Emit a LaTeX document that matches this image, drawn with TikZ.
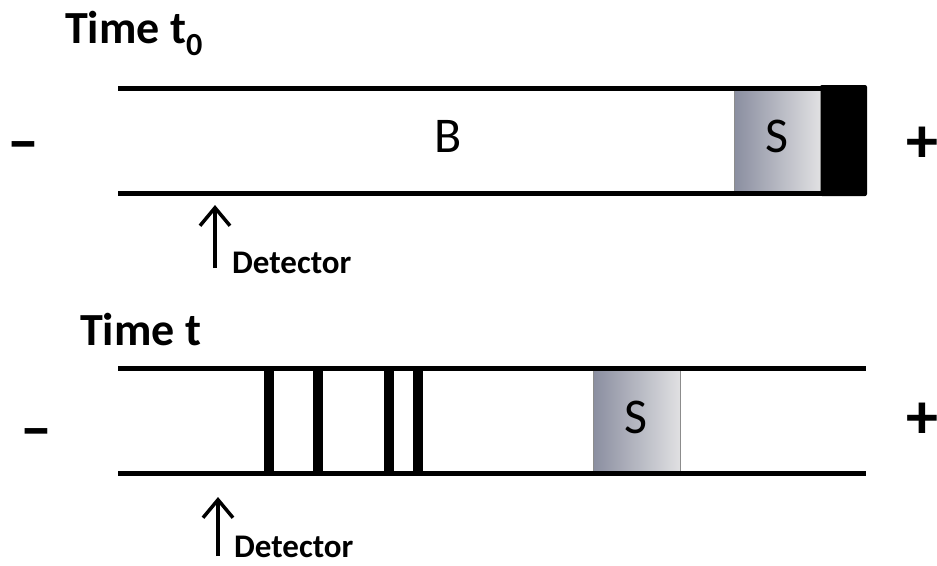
\documentclass[tikz,border=0pt]{standalone}
\usepackage{fontspec}
\setmainfont{Carlito}
\usetikzlibrary{arrows.meta}

\definecolor{sleft}{RGB}{138,142,160}
\definecolor{sright}{RGB}{224,224,226}

\tikzset{
  wall/.style={line width=5pt},
  band/.style={fill=black},
  zone/.style={left color=sleft, right color=sright, draw=black!45, line width=0.6pt},
  timelabel/.style={font=\fontsize{46}{50}\selectfont\bfseries, anchor=base west, inner sep=0pt},
  zonelabel/.style={font=\fontsize{50}{54}\selectfont, anchor=base, inner sep=0pt},
  polelabel/.style={font=\fontsize{64}{68}\selectfont\bfseries, inner sep=0pt},
  detlabel/.style={font=\fontsize{33}{36}\selectfont\bfseries, anchor=base west, inner sep=0pt},
  detarrow/.style={line width=3.5pt, -{Straight Barb[length=18pt, width=30pt, line width=3.5pt]}}
}

\begin{document}
\begin{tikzpicture}[x=1pt,y=-1pt]
\useasboundingbox (0,0) rectangle (937,565);

% time t0
\node[timelabel] (time0) at (65,43) {Time t\textsubscript{0}};
\fill[rounded corners=2pt] (820,85) rectangle (867,196);
\shade[zone] (734,90) rectangle (820,191);
\draw[wall] (118,88) -- (866,88);
\draw[wall] (118,193) -- (866,193);
\node[zonelabel] (bzone) at (448,152) {B};
\node[zonelabel] (szone0) at (777,152) {S};
\node[polelabel] (minus0) at (23,152) {–};
\node[polelabel] (plus0) at (922,145) {+};
\coordinate (det0foot) at (215,268);
\coordinate (det0tip) at (215,205);
\draw[detarrow] (det0foot) -- (det0tip);
\node[detlabel] (det0) at (232,273) {Detector};

% time t
\node[timelabel] (time1) at (80,345) {Time t};
\foreach \bx in {269,318,389,418}
  \fill[band] (\bx-5,370) rectangle (\bx+5,471);
\shade[zone] (593,370) rectangle (680,471);
\draw[wall] (118,368) -- (866,368);
\draw[wall] (118,473) -- (866,473);
\node[zonelabel] (szone1) at (636,433) {S};
\node[polelabel] (minus1) at (36,439) {–};
\node[polelabel] (plus1) at (922,421) {+};
\coordinate (det1foot) at (218,556);
\coordinate (det1tip) at (218,497);
\draw[detarrow] (det1foot) -- (det1tip);
\node[detlabel] (det1) at (234,557) {Detector};
\end{tikzpicture}
\end{document}
